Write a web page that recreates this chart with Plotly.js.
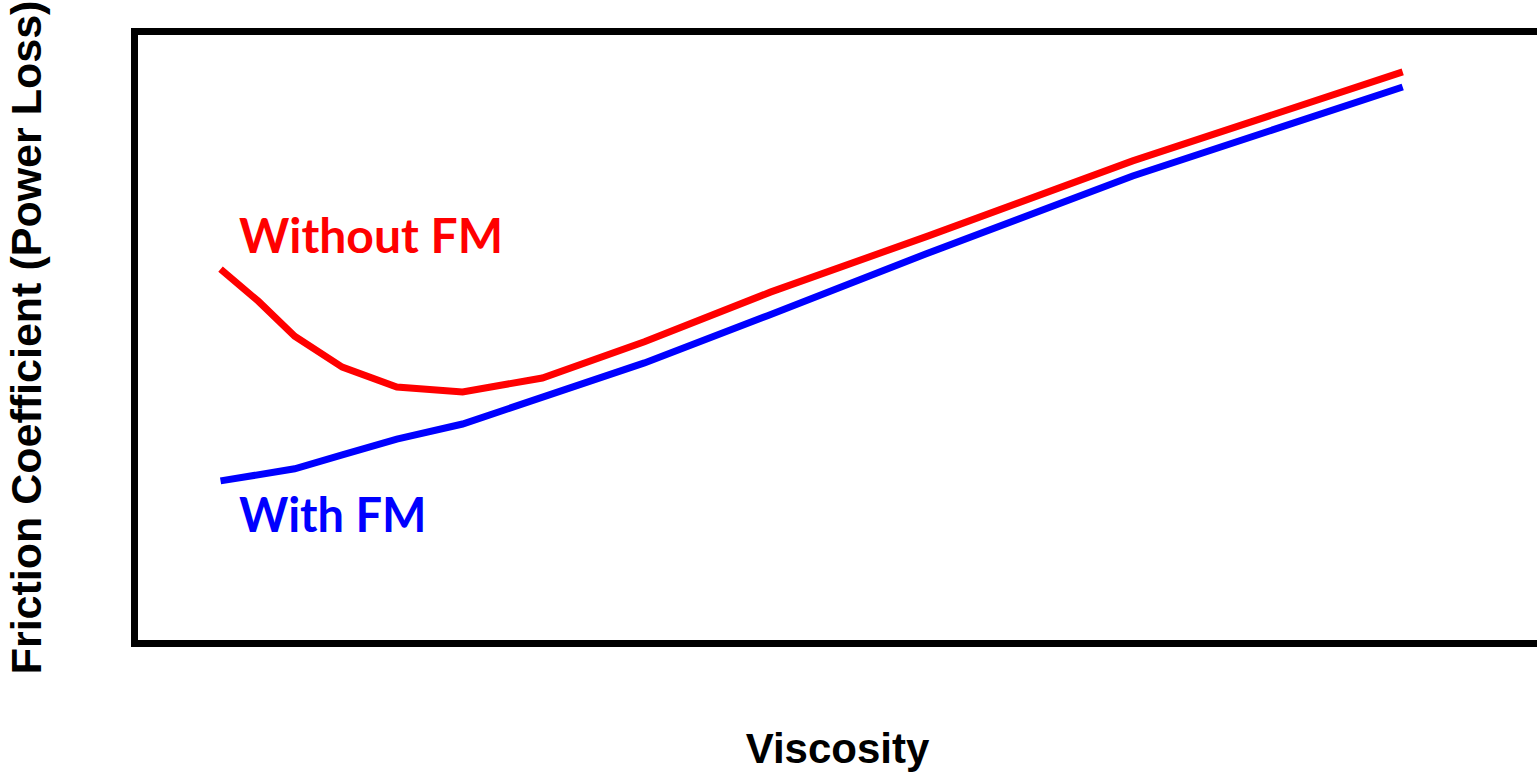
<!DOCTYPE html>
<html>
<head>
<meta charset="utf-8">
<script src="https://cdn.plot.ly/plotly-3.0.1.min.js"></script>
<style>html,body{margin:0;padding:0;background:#fff;}#chart{width:1537px;height:772px;}</style>
</head>
<body>
<div id="chart"></div>
<script>
// Viscosity (relative units, 0-100) and friction coefficient (relative units, 0-100)
const withoutFM_x = [5.9, 8.6, 11.2, 14.6, 18.5, 23.2, 28.9, 36.2, 45.2, 56.5, 71.1, 90.4];
const withoutFM_y = [61.3, 56.0, 50.2, 45.1, 41.8, 41.0, 43.3, 49.3, 57.5, 66.8, 79.2, 93.9];
const withFM_x = [5.9, 11.2, 14.6, 18.5, 23.2, 28.9, 36.2, 45.0, 56.3, 71.1, 90.4];
const withFM_y = [26.3, 28.3, 30.6, 33.2, 35.7, 40.2, 45.8, 53.6, 63.8, 76.7, 91.4];
const labels = ["Without FM", "With FM"];
const xTitle = "Viscosity";
const yTitle = "Friction Coefficient (Power Loss)";

const traces = [
  {x: withoutFM_x, y: withoutFM_y, mode: 'lines', name: labels[0],
   line: {color: '#ff0000', width: 7}, hoverinfo: 'skip'},
  {x: withFM_x, y: withFM_y, mode: 'lines', name: labels[1],
   line: {color: '#0000ff', width: 7}, hoverinfo: 'skip'}
];

const layout = {
  width: 1537, height: 772,
  margin: {l: 138, r: 0, t: 35, b: 132, pad: 0},
  paper_bgcolor: '#ffffff', plot_bgcolor: '#ffffff',
  showlegend: false,
  xaxis: {range: [0, 100], showgrid: false, zeroline: false, showticklabels: false, ticks: '',
          showline: true, linecolor: '#000', linewidth: 7, mirror: true,
          title: {text: xTitle, standoff: 92, font: {family: 'Liberation Sans, Arial, sans-serif', size: 42, color: '#000', weight: 'bold'}}},
  yaxis: {range: [0, 100], showgrid: false, zeroline: false, showticklabels: false, ticks: '',
          showline: true, linecolor: '#000', linewidth: 7, mirror: false,
          title: {text: yTitle, standoff: 78, font: {family: 'Liberation Sans, Arial, sans-serif', size: 43, color: '#000', weight: 'bold'}}},
  annotations: [
    {x: 7.1, y: 67.1, xref: 'x', yref: 'y', text: '<b>' + labels[0] + '</b>', showarrow: false,
     xanchor: 'left', yanchor: 'middle', font: {family: 'Lato, sans-serif', size: 48, color: '#ff0000'}},
    {x: 7.1, y: 20.9, xref: 'x', yref: 'y', text: '<b>' + labels[1] + '</b>', showarrow: false,
     xanchor: 'left', yanchor: 'middle', font: {family: 'Lato, sans-serif', size: 47, color: '#0000ff'}}
  ]
};

Plotly.newPlot('chart', traces, layout, {displayModeBar: false, staticPlot: true});
</script>
</body>
</html>
